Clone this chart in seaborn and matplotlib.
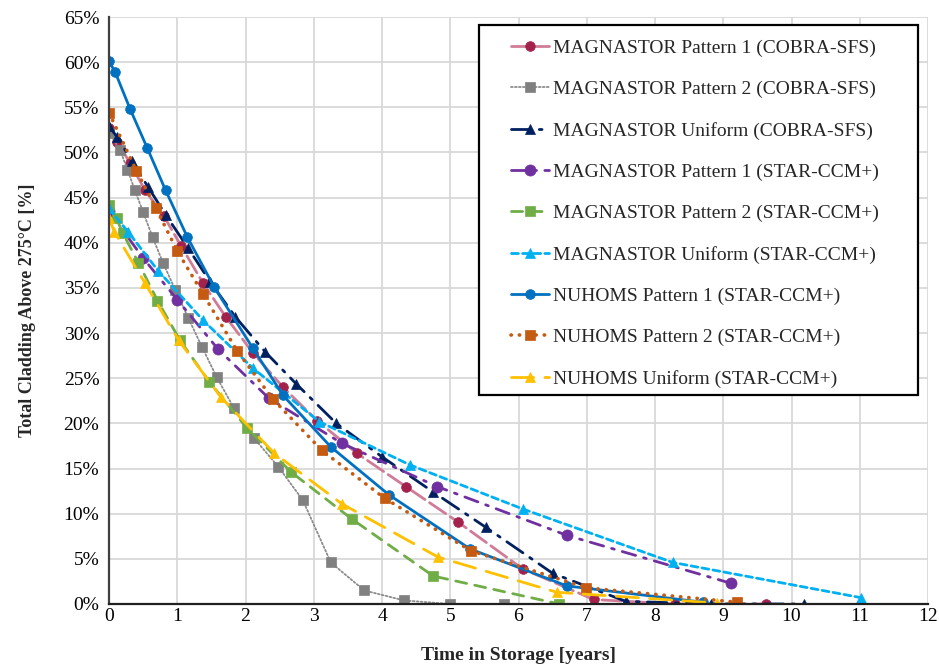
import matplotlib
matplotlib.use("Agg")
import matplotlib.pyplot as plt
import seaborn as sns
import pandas as pd
from matplotlib.ticker import FuncFormatter, MultipleLocator
from matplotlib.patches import Rectangle

# ---- data (time in years, % cladding above 275C) ----
mag_p1_cobra_x = [0, 0.12, 0.31, 0.53, 0.80, 1.06, 1.38, 1.71, 2.11, 2.55, 3.05, 3.63, 4.35, 5.11, 6.06, 7.10, 8.29, 9.63]
mag_p1_cobra_y = [52.7, 51.2, 48.8, 45.8, 43.0, 39.6, 35.5, 31.8, 27.8, 24.0, 20.3, 16.7, 13.0, 9.1, 3.9, 0.5, 0.0, 0.0]

mag_p2_cobra_x = [0, 0.16, 0.27, 0.38, 0.50, 0.64, 0.79, 0.97, 1.16, 1.36, 1.58, 1.83, 2.12, 2.48, 2.84, 3.25, 3.74, 4.32, 5.00, 5.79]
mag_p2_cobra_y = [52.2, 50.3, 48.1, 45.8, 43.4, 40.6, 37.8, 34.8, 31.7, 28.5, 25.1, 21.7, 18.4, 15.2, 11.5, 4.6, 1.5, 0.4, 0.0, 0.0]

mag_u_cobra_x = [0, 0.12, 0.34, 0.57, 0.83, 1.16, 1.48, 1.85, 2.29, 2.74, 3.33, 4.00, 4.75, 5.52, 6.50, 7.57, 8.82, 10.18]
mag_u_cobra_y = [52.9, 51.7, 49.0, 46.2, 43.1, 39.4, 35.7, 31.8, 27.9, 24.4, 20.0, 16.3, 12.4, 8.5, 3.4, 0.3, 0.0, 0.0]

mag_p1_star_x = [0, 0.50, 1.00, 1.60, 2.34, 3.41, 4.81, 6.71, 9.11]
mag_p1_star_y = [43.5, 38.3, 33.7, 28.2, 22.8, 17.8, 13.0, 7.6, 2.3]

mag_p2_star_x = [0, 0.11, 0.20, 0.43, 0.71, 1.04, 1.47, 2.02, 2.67, 3.56, 4.75, 6.60]
mag_p2_star_y = [44.2, 42.7, 41.1, 37.8, 33.6, 29.2, 24.6, 19.5, 14.6, 9.4, 3.1, 0.0]

mag_u_star_x = [0, 0.28, 0.72, 1.38, 2.11, 3.08, 4.41, 6.07, 8.26, 11.02]
mag_u_star_y = [43.8, 41.2, 36.9, 31.4, 26.1, 20.2, 15.4, 10.5, 4.6, 0.7]

nuh_p1_x = [0, 0.09, 0.31, 0.56, 0.83, 1.15, 1.54, 2.11, 2.55, 3.25, 4.10, 5.29, 6.71, 8.70]
nuh_p1_y = [60.1, 58.9, 54.8, 50.5, 45.8, 40.6, 35.1, 28.3, 23.1, 17.4, 12.1, 6.1, 2.0, 0.2]

nuh_p2_x = [0, 0.40, 0.69, 1.00, 1.38, 1.88, 2.40, 3.12, 4.04, 5.30, 6.99, 9.20]
nuh_p2_y = [54.4, 48.0, 43.8, 39.1, 34.3, 28.0, 22.7, 17.0, 11.7, 5.9, 1.8, 0.2]

nuh_u_x = [0, 0.08, 0.53, 1.02, 1.64, 2.42, 3.41, 4.82, 6.56, 8.91]
nuh_u_y = [42.7, 41.2, 35.5, 29.2, 22.9, 16.7, 11.1, 5.2, 1.3, 0.1]

labels = [
    "MAGNASTOR Pattern 1 (COBRA-SFS)",
    "MAGNASTOR Pattern 2 (COBRA-SFS)",
    "MAGNASTOR Uniform (COBRA-SFS)",
    "MAGNASTOR Pattern 1 (STAR-CCM+)",
    "MAGNASTOR Pattern 2 (STAR-CCM+)",
    "MAGNASTOR Uniform (STAR-CCM+)",
    "NUHOMS Pattern 1 (STAR-CCM+)",
    "NUHOMS Pattern 2 (STAR-CCM+)",
    "NUHOMS Uniform (STAR-CCM+)",
]
xs = [mag_p1_cobra_x, mag_p2_cobra_x, mag_u_cobra_x, mag_p1_star_x, mag_p2_star_x,
      mag_u_star_x, nuh_p1_x, nuh_p2_x, nuh_u_x]
ys = [mag_p1_cobra_y, mag_p2_cobra_y, mag_u_cobra_y, mag_p1_star_y, mag_p2_star_y,
      mag_u_star_y, nuh_p1_y, nuh_p2_y, nuh_u_y]

# ---- styles ----
styles = [
    dict(color="#D07C96", mfc="#A3224C", mec="#A3224C", marker="o", ls=(0, (7, 2)), lw=2.0),
    dict(color="#8C8C8C", mfc="#808080", mec="#808080", marker="s", ls=(0, (1, 1.2)), lw=1.3),
    dict(color="#002060", mfc="#002060", mec="#002060", marker="^", ls=(0, (7, 3, 1, 3)), lw=2.0),
    dict(color="#7030A0", mfc="#7030A0", mec="#7030A0", marker="o", ls=(0, (5, 3, 1, 3)), lw=2.0),
    dict(color="#70AD47", mfc="#70AD47", mec="#70AD47", marker="s", ls=(0, (4, 3)), lw=2.0),
    dict(color="#00B0F0", mfc="#00B0F0", mec="#00B0F0", marker="^", ls=(0, (2.5, 1.5)), lw=2.0),
    dict(color="#0070C0", mfc="#0070C0", mec="#0070C0", marker="o", ls="-", lw=2.0),
    dict(color="#C55A11", mfc="#C55A11", mec="#C55A11", marker="s", ls=(0, (0.1, 2.2)), lw=2.6),
    dict(color="#FFC000", mfc="#FFC000", mec="#FFC000", marker="^", ls=(0, (8, 4)), lw=2.0),
]
msizes = [7, 6.5, 7.5, 8, 6.5, 7.5, 7, 7, 7.5]

sns.set_theme(style="white")
plt.rcParams["font.family"] = ["Liberation Serif", "DejaVu Serif"]

W, H = 939, 666
fig = plt.figure(figsize=(W / 100, H / 100), dpi=100)
ax = fig.add_axes([109 / W, 1 - 604 / H, (928 - 109) / W, (604 - 17) / H])

for i, (lab, x, y, st) in enumerate(zip(labels, xs, ys, styles)):
    df = pd.DataFrame({"t": x, "v": y})
    sns.lineplot(data=df, x="t", y="v", ax=ax, sort=False, estimator=None,
                 color=st["color"], linestyle=st["ls"], linewidth=st["lw"],
                 marker=st["marker"], markersize=msizes[i],
                 markerfacecolor=st["mfc"], markeredgecolor=st["mec"],
                 markeredgewidth=0.5, label=lab, dash_capstyle="round")

ax.set_xlim(0, 12)
ax.set_ylim(0, 65)
ax.xaxis.set_major_locator(MultipleLocator(1))
ax.yaxis.set_major_locator(MultipleLocator(5))
ax.yaxis.set_major_formatter(FuncFormatter(lambda v, p: f"{int(round(v))}%"))
ax.grid(True, color="#D9D9D9", linewidth=1.3)
ax.set_axisbelow(True)
for s in ["top", "right"]:
    ax.spines[s].set_visible(False)
ax.spines["left"].set_color("#404040")
ax.spines["bottom"].set_color("#202020")
for s in ["left", "bottom"]:
    ax.spines[s].set_linewidth(1.6)
ax.tick_params(axis="both", labelsize=14, colors="black", length=0)
ax.tick_params(axis="x", pad=3)
ax.tick_params(axis="y", pad=7)
ax.set_xlabel("Time in Storage [years]", fontsize=14, fontweight="bold", labelpad=16)
ax.set_ylabel("Total Cladding Above 275\u00b0C [%]", fontsize=13, fontweight="bold", labelpad=20)

# legend frame (drawn as a box) and legend entries
frame = Rectangle((479 / W, 1 - 395 / H), (918 - 479) / W, (395 - 25) / H,
                  transform=fig.transFigure, facecolor="white", edgecolor="black",
                  linewidth=1.6, zorder=4.8)
ax.add_patch(frame)
leg = ax.legend(loc="upper left", bbox_to_anchor=(511 / W, 1 - 39 / H),
                bbox_transform=fig.transFigure, fontsize=14, frameon=False,
                labelspacing=1.215, handlelength=1.95, handletextpad=0.2,
                borderpad=0, borderaxespad=0)
leg.set_zorder(5)

fig.savefig("out.png", dpi=100)
